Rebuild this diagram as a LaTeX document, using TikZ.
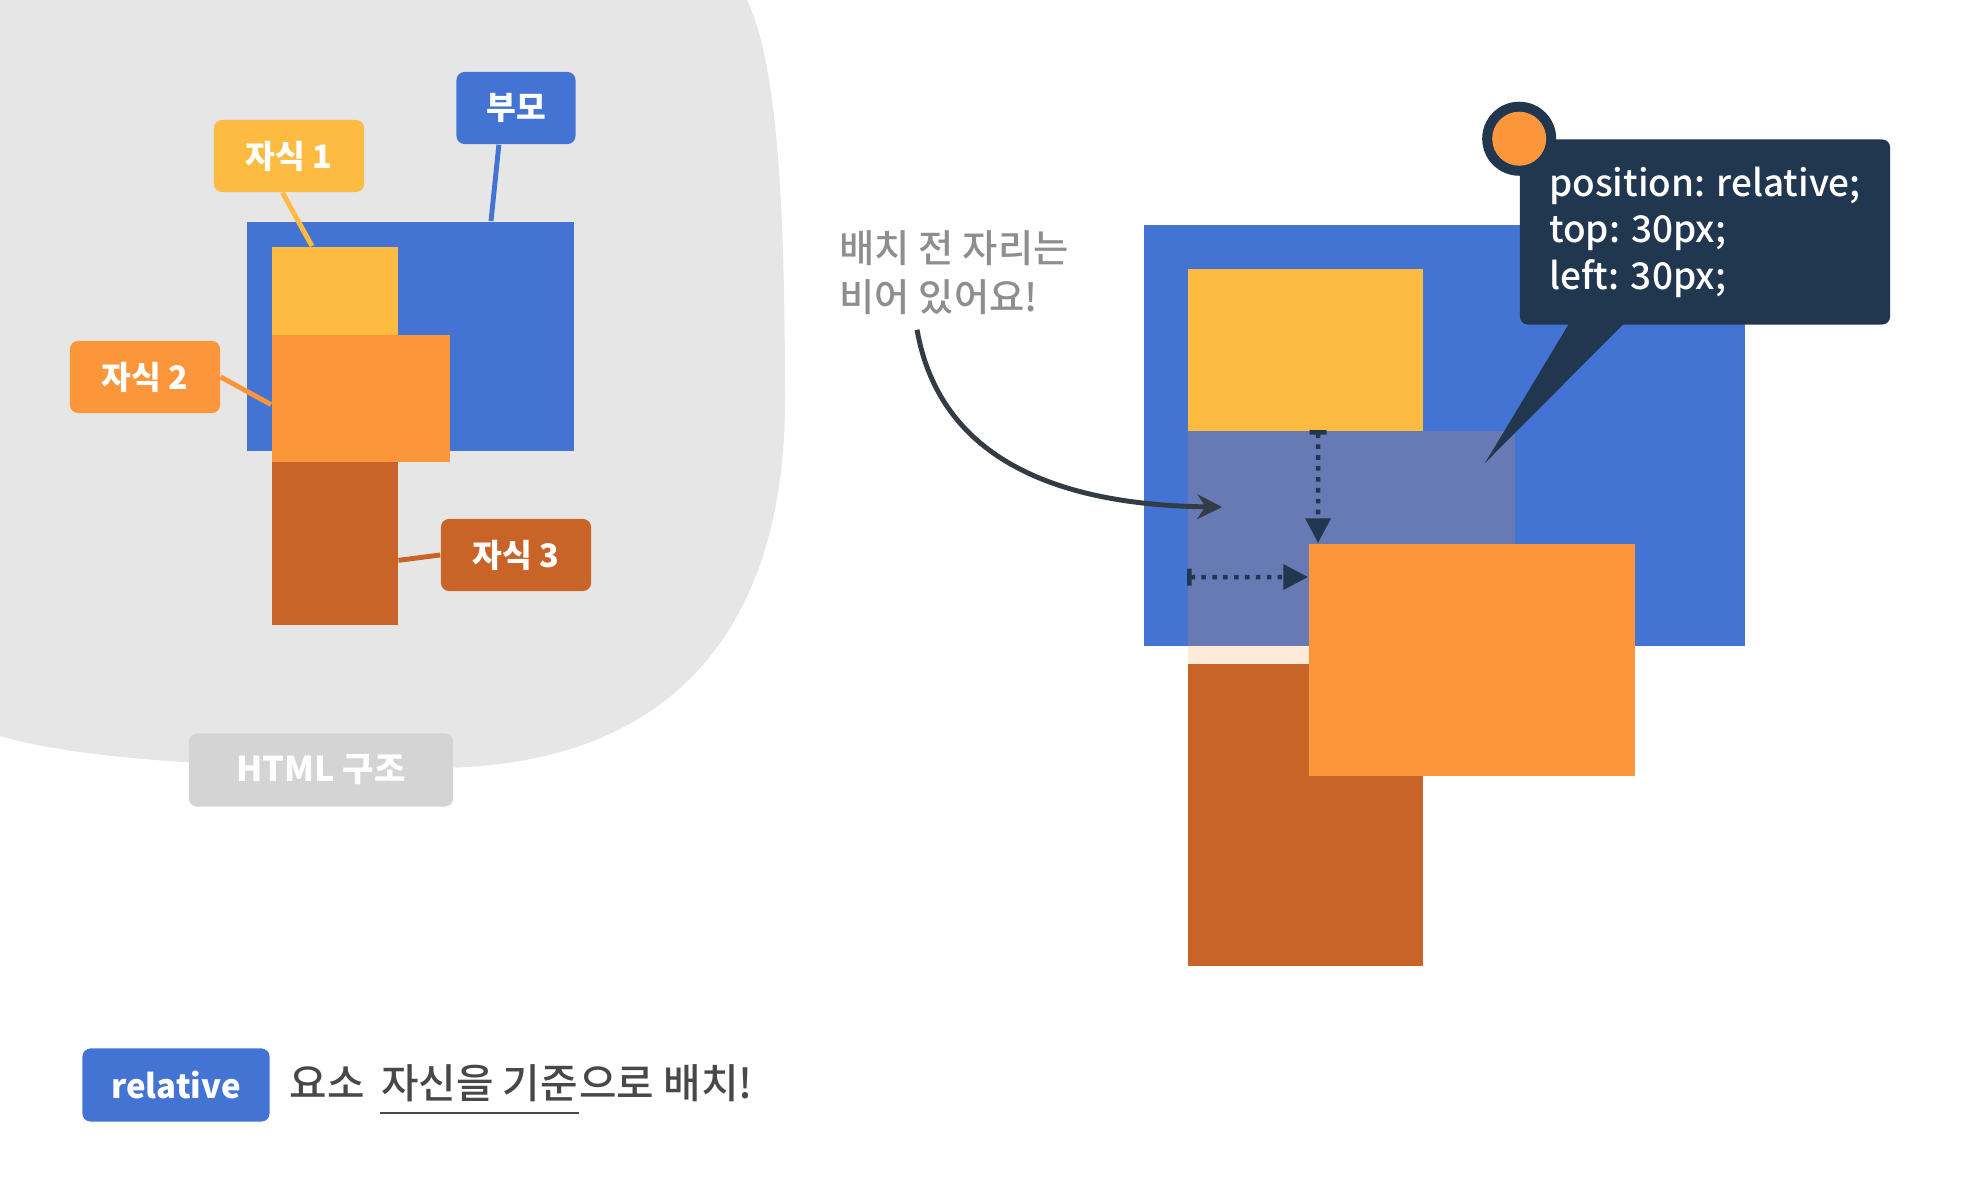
\documentclass[tikz,border=0pt]{standalone}
\usepackage{fontspec}
\setmainfont{Noto Sans CJK KR}
\newfontfamily\krmed{Noto Sans CJK KR Medium}
\usetikzlibrary{arrows.meta, positioning}

\definecolor{cssblue}{HTML}{4474D3}
\definecolor{kidyellow}{HTML}{FDBC41}
\definecolor{kidorange}{HTML}{FC963A}
\definecolor{kidbrown}{HTML}{C96428}
\definecolor{navy}{HTML}{21364F}
\definecolor{blobgray}{HTML}{E6E6E6}
\definecolor{taggray}{HTML}{D4D4D4}
\definecolor{notegray}{HTML}{8E8E8E}
\definecolor{textgray}{HTML}{484848}
\definecolor{arrowgray}{HTML}{333B44}

\begin{document}
\begin{tikzpicture}[x=0.01cm, y=-0.01cm, >=Stealth,
		blk/.style={rectangle, inner sep=0, anchor=north west},
		tag/.style={rectangle, rounded corners=0.08cm, inner sep=0, text=white, minimum width=1.5cm, minimum height=0.72cm, font=\fontsize{9.2}{11}\selectfont\bfseries},
		leader/.style={line width=1.4pt},
		move/.style={navy, line width=1.3pt, dash pattern=on 1.3pt off 1.8pt, {Bar[width=4.8pt, line width=1.3pt]}-{Triangle[length=7pt, width=7pt]}},
		pointer/.style={arrowgray, line width=1.4pt, -{Stealth[length=7pt, width=7pt]}},
		sent/.style={inner sep=0, anchor=base west, text=textgray, font=\krmed\fontsize{11.6}{13}\selectfont}]
		
		\useasboundingbox (0,0) rectangle (1970,1188);
		
		% HTML 구조 (left)
		\fill[blobgray] (0,0) -- (747,0) .. controls (775,60) and (785,180) .. (785,400)
			.. controls (785,620) and (680,765) .. (440,768)
			.. controls (250,770) and (80,760) .. (0,736) -- cycle;
		\node[tag, fill=taggray, minimum width=2.64cm, minimum height=0.73cm, font=\fontsize{9.7}{11}\selectfont\bfseries] (html) at (321,770) {HTML 구조};
		
		\node[blk, fill=cssblue, minimum width=3.27cm, minimum height=2.29cm] (parent) at (246,221) {};
		\node[blk, fill=kidyellow, minimum width=1.26cm, minimum height=0.88cm] (kid1) at (271,246) {};
		\node[blk, fill=kidorange, minimum width=1.78cm, minimum height=1.27cm] (kid2) at (271,334) {};
		\node[blk, fill=kidbrown, minimum width=1.26cm, minimum height=1.63cm] (kid3) at (271,461) {};
		
		\node[tag, fill=cssblue, minimum width=1.19cm] (ptag) at (516,108) {부모};
		\node[tag, fill=kidyellow] (k1tag) at (289,156) {자식 1};
		\node[tag, fill=kidorange] (k2tag) at (145,377) {자식 2};
		\node[tag, fill=kidbrown] (k3tag) at (516,555) {자식 3};
		
		\draw[leader, cssblue] (ptag.245) -- (parent.55);
		\draw[leader, kidyellow] (k1tag.260) -- (kid1.117);
		\draw[leader, kidorange] (k2tag.east) -- (kid2.184);
		\draw[leader, kidbrown] (kid3.-15) -- (k3tag.west);
		
		% 배치 결과 (right)
		\node[blk, fill=cssblue, minimum width=6.01cm, minimum height=4.21cm] (parent2) at (1143,224) {};
		\node[blk, fill=kidyellow, minimum width=2.35cm, minimum height=1.62cm] (kid1b) at (1187,268) {};
		\node[blk, fill=kidbrown, minimum width=2.35cm, minimum height=3.02cm] (kid3b) at (1187,663) {};
		\node[blk, fill=kidorange, fill opacity=0.2, minimum width=3.27cm, minimum height=2.33cm] (ghost) at (1187,430) {};
		\node[blk, fill=kidorange, minimum width=3.26cm, minimum height=2.32cm] (kid2b) at (1308,543) {};
		
		\draw[move] ([xshift=1.31cm]ghost.north west) -- ([xshift=0.10cm]kid2b.north west);
		\draw[move] ([yshift=-1.47cm]ghost.north west) -- ([yshift=-0.34cm]kid2b.north west);
		
		% 메모
		\node[anchor=north west, inner sep=0, align=left, text=notegray, font=\krmed\fontsize{10.9}{14}\selectfont] (note) at (839,230) {배치 전 자리는\\비어 있어요!};
		\draw[pointer] ([xshift=0.78cm, yshift=-0.14cm]note.south west) .. controls +(23,131) and +(-162,-2) .. ([xshift=0.35cm, yshift=-0.77cm]ghost.north west);
		
		% 말풍선
		\coordinate (tailend) at (1485,463);
		\node[rectangle, rounded corners=0.08cm, fill=navy, text=white, align=left, minimum width=3.7cm, minimum height=1.85cm, font=\krmed\fontsize{10.5}{13.2}\selectfont] (tip) at (1705,232) {position: relative;\\top: 30px;\\left: 30px;};
		\fill[navy] ([xshift=0.5cm, yshift=0.02cm]tip.south west) -- (tailend) -- ([xshift=1.05cm, yshift=0.02cm]tip.south west) -- cycle;
		\node[circle, fill=navy, minimum size=0.74cm, inner sep=0] (dot) at (tip.north west) {};
		\node[circle, fill=kidorange, minimum size=0.54cm, inner sep=0] (dotin) at (dot) {};
		
		% 요약
		\node[tag, fill=cssblue, minimum width=1.87cm, minimum height=0.73cm, font=\fontsize{9.4}{11}\selectfont\bfseries] (rel) at (176,1085) {relative};
		\node[sent] (s1) at (289,1098) {요소};
		\node[sent, base right=0.15cm of s1] (s2) {자신을 기준};
		\node[sent, base right=0cm of s2] (s3) {으로 배치!};
		\draw[textgray, line width=0.8pt] ([yshift=-0.15cm]s2.base west) -- ([yshift=-0.15cm]s2.base east);
		
	\end{tikzpicture}
\end{document}
